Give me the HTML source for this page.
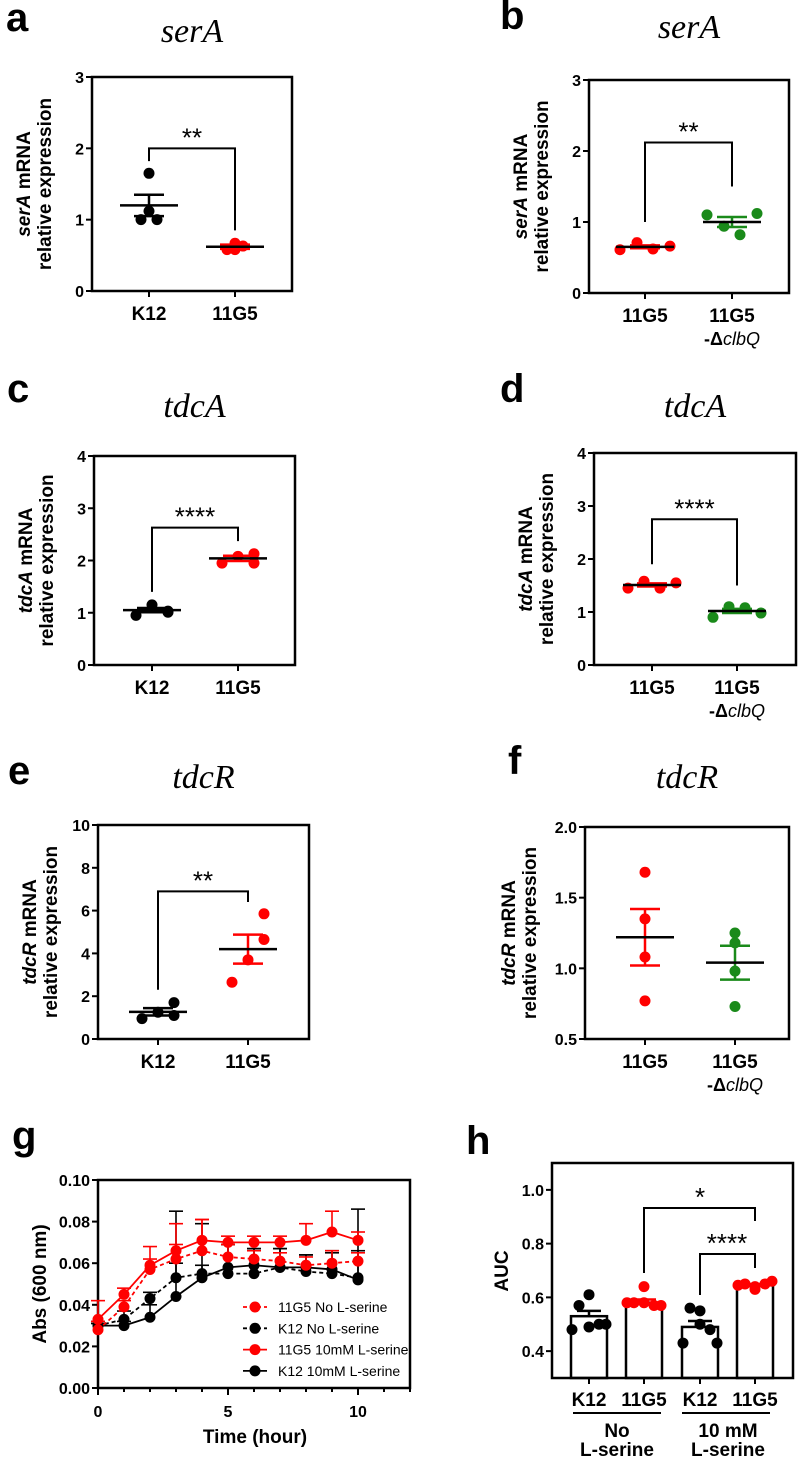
<!DOCTYPE html>
<html><head><meta charset="utf-8">
<style>
html,body{margin:0;padding:0;background:#fff;}
svg{display:block;font-family:"Liberation Sans",sans-serif;}
.tk{font-size:16px;font-weight:bold;}
.cat{font-size:19px;font-weight:bold;}
.yt{font-size:19px;font-weight:bold;}
.pl{font-size:40px;font-weight:bold;}
.ti{font-family:"Liberation Serif",serif;font-style:italic;font-size:34px;}
</style></head>
<body>
<svg id="fig" width="800" height="1459" viewBox="0 0 800 1459" xmlns="http://www.w3.org/2000/svg"></svg>
<script>
// ---- data ----
const aCategories = ["K12","11G5"];
const aK12 = [1.65,1.12,1.0,1.0];
const a11G5 = [0.58,0.67,0.58,0.63];
const aMeans = [1.2,0.62];
const aSem = [0.15,0.03];
const aTicks = [0,1,2,3];

const bCategories = ["11G5","11G5 -ΔclbQ"];
const b11G5 = [0.61,0.71,0.62,0.66];
const bClbQ = [1.1,0.94,0.82,1.12];
const bMeans = [0.65,1.0];
const bSem = [0.02,0.07];
const bTicks = [0,1,2,3];

const cK12 = [0.95,1.15,1.03,1.01];
const c11G5 = [1.95,2.08,1.95,2.13];
const cMeans = [1.05,2.04];
const cSem = [0.04,0.05];
const cTicks = [0,1,2,3,4];

const d11G5 = [1.45,1.58,1.45,1.55];
const dClbQ = [0.9,1.1,1.08,0.98];
const dMeans = [1.51,1.02];
const dSem = [0.03,0.04];
const dTicks = [0,1,2,3,4];

const eK12 = [0.95,1.25,1.1,1.7];
const e11G5 = [2.65,3.7,4.65,5.85];
const eMeans = [1.27,4.2];
const eSem = [0.17,0.68];
const eTicks = [0,2,4,6,8,10];

const f11G5 = [1.68,1.35,1.08,0.77];
const fClbQ = [1.25,1.18,0.98,0.73];
const fMeans = [1.22,1.04];
const fSem = [0.2,0.12];
const fTicks = [0.5,1.0,1.5,2.0];

const gHours = [0,1,2,3,4,5,6,7,8,9,10];
const g11G5No = [0.028,0.039,0.057,0.062,0.066,0.063,0.062,0.061,0.059,0.060,0.061];
const g11G5NoErr = [0.004,0.003,0.005,0.007,0.015,0.006,0.004,0.004,0.004,0.006,0.004];
const gK12No = [0.030,0.033,0.043,0.053,0.055,0.055,0.055,0.058,0.056,0.055,0.053];
const gK12NoErr = [0.002,0.004,0.003,0.007,0.004,0.014,0.012,0.009,0.008,0.011,0.013];
const g11G5Ser = [0.033,0.045,0.059,0.066,0.071,0.070,0.070,0.070,0.071,0.075,0.071];
const g11G5SerErr = [0.009,0.003,0.009,0.013,0.010,0.003,0.003,0.003,0.008,0.010,0.004];
const gK12Ser = [0.030,0.030,0.034,0.044,0.053,0.058,0.059,0.058,0.058,0.057,0.052];
const gK12SerErr = [0.001,0.002,0.006,0.041,0.026,0.011,0.008,0.009,0.006,0.008,0.034];
const gYTicks = [0,0.02,0.04,0.06,0.08,0.10];
const gXTicks = [0,5,10];
const gLegend = ["11G5 No L-serine","K12 No L-serine","11G5 10mM L-serine","K12 10mM L-serine"];

const hCategories = ["K12","11G5","K12","11G5"];
const hMeans = [0.53,0.58,0.49,0.645];
const hSem = [0.02,0.012,0.022,0.005];
const hPts0 = [0.61,0.57,0.50,0.48,0.50,0.49];
const hPts1 = [0.64,0.58,0.57,0.58,0.57,0.58];
const hPts2 = [0.55,0.56,0.48,0.43,0.43,0.50];
const hPts3 = [0.64,0.65,0.65,0.645,0.66,0.63];
const hTicks = [0.4,0.6,0.8,1.0];

// ---- helpers ----
const svg = document.getElementById('fig');
const NS = "http://www.w3.org/2000/svg";
function mk(tag, attrs, parent){
  const e = document.createElementNS(NS, tag);
  for (const k in attrs) e.setAttribute(k, attrs[k]);
  (parent||svg).appendChild(e);
  return e;
}
function line(x1,y1,x2,y2,col,w,p,dash){
  const l = mk('line',{x1:x1,y1:y1,x2:x2,y2:y2,stroke:col,'stroke-width':w},p);
  if (dash) l.setAttribute('stroke-dasharray',dash);
  return l;
}
function txt(x,y,s,cls,anchor,p){
  const t = mk('text',{x:x,y:y,'text-anchor':anchor||'middle'},p);
  if (cls) t.setAttribute('class',cls);
  t.textContent = s;
  return t;
}
function fmt(v,d){return d?v.toFixed(d):String(v);}

const RED="#ff0000", GRN="#1a8a1a", BLK="#000";
const jit = [0,0,-12,12];

function dotPanel(o){
  const g = mk('g',{});
  
  
  const ys = v => o.y0 - (v - o.min)/(o.max - o.min)*(o.y0 - o.y1);
  const pl = txt(o.lx, o.ly, o.letter, 'pl', 'start', g);
   
  const ti = txt((o.x0+o.x1)/2, o.ty, o.title, 'ti', 'middle', g);
   
  const fr = mk('rect',{x:o.x0,y:o.y1,width:o.x1-o.x0,height:o.y0-o.y1,fill:'none',stroke:BLK,'stroke-width':2.5},g);
   
  o.ticks.forEach(t=>{
    const y = ys(t);
    line(o.x0-6,y,o.x0,y,BLK,2,g);
    const tl = txt(o.x0-8,y+6,fmt(t,o.dec),'tk','end',g);
     
  });
  const yt = mk('text',{transform:`translate(${o.x0-(o.dec?68:60)},${(o.y0+o.y1)/2}) rotate(-90)`,'text-anchor':'middle',class:'yt'},g);
   
  const t1 = mk('tspan',{x:0,dy:-2},yt);
  const it = mk('tspan',{'font-style':'italic'},t1); it.textContent = o.gene;
  const rest = mk('tspan',{},t1); rest.textContent = ' mRNA';
  const t2 = mk('tspan',{x:0,dy:21},yt); t2.textContent='relative expression';
  o.groups.forEach((gr,i)=>{
    const cx = o.cats[i];
    line(cx,o.y0,cx,o.y0+6,BLK,2,g);
    const cl = txt(cx,o.y0+29,gr.label,'cat','middle',g);
     
    if (gr.sub){
      const s = mk('text',{x:cx,y:o.y0+52,'text-anchor':'middle','font-size':'18'},g);
       
      const a = mk('tspan',{'font-weight':'bold'},s); a.textContent='-Δ';
      const b = mk('tspan',{'font-style':'italic'},s); b.textContent='clbQ';
    }
    gr.pts.forEach((v,j)=>{
      const c = mk('circle',{cx:cx+(o.jit||jit)[j],cy:ys(v),r:5.5,fill:gr.col},g);
       
    });
    const m = gr.mean, s = gr.sem;
    const eb = mk('g',{},g);
     
    line(cx,ys(m-s),cx,ys(m+s),gr.col,2.5,eb);
    line(cx-15,ys(m-s),cx+15,ys(m-s),gr.col,2.5,eb);
    line(cx-15,ys(m+s),cx+15,ys(m+s),gr.col,2.5,eb);
    const ml = line(cx-29,ys(m),cx+29,ys(m),BLK,2.5,g);
     
  });
  if (o.sig){
    const sb = mk('g',{},g);
     
    const [l,top,r,st] = o.sig;
    mk('polyline',{points:`${o.cats[0]},${ys(l)} ${o.cats[0]},${ys(top)} ${o.cats[1]},${ys(top)} ${o.cats[1]},${ys(r)}`,fill:'none',stroke:BLK,'stroke-width':2},sb);
    txt((o.cats[0]+o.cats[1])/2,ys(top)-2,st,null,'middle',sb).setAttribute('font-size','26');
  }
}

const jitA=[0,0,-8,8], jitB=[-25,-8,8,25];
dotPanel({name:'panel-a',letter:'a',lx:6,ly:31,title:'serA',ty:42,gene:'serA',x0:92,x1:292,y1:77,y0:291,min:0,max:3,ticks:aTicks,cats:[149,235],jit:[0,0,-8,8],
  groups:[{label:aCategories[0],pts:aK12,mean:aMeans[0],sem:aSem[0],col:BLK},{label:aCategories[1],pts:a11G5,mean:aMeans[1],sem:aSem[1],col:RED}],
  sig:[1.82,2.0,0.85,'**']});
dotPanel({name:'panel-b',letter:'b',lx:500,ly:29,title:'serA',ty:38,gene:'serA',x0:589,x1:789,y1:80,y0:293,min:0,max:3,ticks:bTicks,cats:[645,732],jit:[-25,-8,8,25],
  groups:[{label:'11G5',pts:b11G5,mean:bMeans[0],sem:bSem[0],col:RED},{label:'11G5',sub:true,pts:bClbQ,mean:bMeans[1],sem:bSem[1],col:GRN}],
  sig:[1.0,2.12,1.5,'**']});
dotPanel({name:'panel-c',letter:'c',lx:7,ly:402,title:'tdcA',ty:417,gene:'tdcA',x0:94,x1:295,y1:456,y0:665,min:0,max:4,ticks:cTicks,cats:[152,238],jit:[-16,0,16,16],
  groups:[{label:'K12',pts:cK12,mean:cMeans[0],sem:cSem[0],col:BLK},{label:'11G5',pts:c11G5,mean:cMeans[1],sem:cSem[1],col:RED}],
  sig:[1.4,2.63,2.37,'****']});
dotPanel({name:'panel-d',letter:'d',lx:500,ly:402,title:'tdcA',ty:417,gene:'tdcA',x0:594,x1:796,y1:453,y0:665,min:0,max:4,ticks:dTicks,cats:[652,737],jit:[-24,-8,8,24],
  groups:[{label:'11G5',pts:d11G5,mean:dMeans[0],sem:dSem[0],col:RED},{label:'11G5',sub:true,pts:dClbQ,mean:dMeans[1],sem:dSem[1],col:GRN}],
  sig:[1.9,2.75,1.5,'****']});
dotPanel({name:'panel-e',letter:'e',lx:8,ly:784,title:'tdcR',ty:788,gene:'tdcR',x0:98,x1:309,y1:825,y0:1039,min:0,max:10,ticks:eTicks,cats:[158,248],jit:[-16,0,16,16],
  groups:[{label:'K12',pts:eK12,mean:eMeans[0],sem:eSem[0],col:BLK},{label:'11G5',pts:e11G5,mean:eMeans[1],sem:eSem[1],col:RED}],
  sig:[2.3,6.9,6.4,'**']});
dotPanel({name:'panel-f',letter:'f',lx:508,ly:774,title:'tdcR',ty:788,gene:'tdcR',dec:1,x0:585,x1:789,y1:827,y0:1039,min:0.5,max:2.0,ticks:fTicks,cats:[645,735],jit:[0,0,0,0],
  groups:[{label:'11G5',pts:f11G5,mean:fMeans[0],sem:fSem[0],col:RED},{label:'11G5',sub:true,pts:fClbQ,mean:fMeans[1],sem:fSem[1],col:GRN}],
  sig:null});

// ---- panel g ----
(function(){
  const g = mk('g',{});
  
  
  const X0=98, X1=410, Y0=1388, Y1=1180;
  const xs = h => X0 + h*26;
  const ys = v => Y0 - v/0.10*(Y0-Y1);
  const pl = txt(12,1149,'g','pl','start',g);
   
  const fr = mk('rect',{x:X0,y:Y1,width:X1-X0,height:Y0-Y1,fill:'none',stroke:BLK,'stroke-width':2.5},g);
   
  gYTicks.forEach(t=>{
    line(X0-6,ys(t),X0,ys(t),BLK,2,g);
    const tl = txt(X0-8,ys(t)+6,t.toFixed(2),'tk','end',g);
     
  });
  for (let h=0; h<=12; h++) line(xs(h),Y0,xs(h),Y0+(h%5==0?7:4),BLK,2,g);
  gXTicks.forEach(t=>{
    const tl = txt(xs(t),Y0+29,String(t),'tk','middle',g);
     
  });
  const xt = txt(255,1443,'Time (hour)','yt','middle',g);
   
  const yt = mk('text',{transform:`translate(46,${(Y0+Y1)/2}) rotate(-90)`,'text-anchor':'middle',class:'yt'},g);
   
  yt.textContent='Abs (600 nm)';
  const series = [
    {v:gK12No,e:gK12NoErr,col:BLK,dash:'4,3'},
    {v:gK12Ser,e:gK12SerErr,col:BLK,dash:null},
    {v:g11G5No,e:g11G5NoErr,col:RED,dash:'4,3'},
    {v:g11G5Ser,e:g11G5SerErr,col:RED,dash:null}
  ];
  series.forEach((s,si)=>{
    const sg = mk('g',{},g);
    
    
    s.v.forEach((v,i)=>{
      const x = xs(gHours[i]);
      line(x,ys(v),x,ys(v+s.e[i]),s.col,1.6,sg);
      line(x-7,ys(v+s.e[i]),x+7,ys(v+s.e[i]),s.col,1.6,sg);
    });
    const pts = s.v.map((v,i)=>xs(gHours[i])+','+ys(v)).join(' ');
    const pl = mk('polyline',{points:pts,fill:'none',stroke:s.col,'stroke-width':1.8},sg);
    if (s.dash) pl.setAttribute('stroke-dasharray',s.dash);
    s.v.forEach((v,i)=>{
      const c = mk('circle',{cx:xs(gHours[i]),cy:ys(v),r:5.5,fill:s.col},sg);
       
    });
  });
  const lg = [{col:RED,dash:'4,3'},{col:BLK,dash:'4,3'},{col:RED,dash:null},{col:BLK,dash:null}];
  gLegend.forEach((lab,i)=>{
    const y = 1307 + i*21.3;
    const eg = mk('g',{},g);
    
    
    line(243,y,267,y,lg[i].col,1.8,eg,lg[i].dash);
    mk('circle',{cx:255,cy:y,r:5.5,fill:lg[i].col},eg);
    txt(278,y+5,lab,null,'start',eg).setAttribute('font-size','14');
  });
})();

// ---- panel h ----
(function(){
  const g = mk('g',{});
  
  
  const X0=552, X1=793, Y0=1378, Y1=1163;
  const ys = v => Y0 - (v-0.3)/0.8*(Y0-Y1);
  const cats = [589,644,700,755];
  const pl = txt(466,1154,'h','pl','start',g);
   
  const pts = [hPts0,hPts1,hPts2,hPts3];
  const cols = [BLK,RED,BLK,RED];
  const hj = [0,-10,10,-17,17,0];
  hMeans.forEach((m,i)=>{
    const b = mk('rect',{x:cats[i]-18,y:ys(m),width:36,height:Y0-ys(m),fill:'#fff',stroke:BLK,'stroke-width':2.5},g);
     
  });
  const fr = mk('rect',{x:X0,y:Y1,width:X1-X0,height:Y0-Y1,fill:'none',stroke:BLK,'stroke-width':2.5},g);
   
  hMeans.forEach((m,i)=>{
    const cx = cats[i];
    pts[i].forEach((v,j)=>{
      const c = mk('circle',{cx:cx+hj[j],cy:ys(v),r:5.5,fill:cols[i]},g);
       
    });
    const col = cols[i];
    line(cx,ys(m),cx,ys(m+hSem[i]),col,2.5,g);
    line(cx-12,ys(m+hSem[i]),cx+12,ys(m+hSem[i]),col,2.5,g);
    line(cx,Y0,cx,Y0+6,BLK,2,g);
    const cl = txt(cx,1406,hCategories[i],'cat','middle',g);
     
  });
  hTicks.forEach(t=>{
    line(X0-6,ys(t),X0,ys(t),BLK,2,g);
    const tl = txt(X0-8,ys(t)+6,t.toFixed(1),'tk','end',g);
     
  });
  const yt = mk('text',{transform:`translate(508,1271) rotate(-90)`,'text-anchor':'middle',class:'yt'},g);
   
  yt.textContent='AUC';
  line(573,1413,661,1413,BLK,2,g);
  line(682,1413,770,1413,BLK,2,g);
  const g1 = mk('text',{x:617,'text-anchor':'middle',class:'cat'},g);
   
  mk('tspan',{x:617,y:1437},g1).textContent='No';
  mk('tspan',{x:617,y:1456},g1).textContent='L-serine';
  const g2 = mk('text',{x:728,'text-anchor':'middle',class:'cat'},g);
   
  mk('tspan',{x:728,y:1437},g2).textContent='10 mM';
  mk('tspan',{x:728,y:1456},g2).textContent='L-serine';
  const b1 = mk('g',{},g);
   
  mk('polyline',{points:`${cats[1]},1273 ${cats[1]},1208 ${cats[3]},1208 ${cats[3]},1221`,fill:'none',stroke:BLK,'stroke-width':2},b1);
  txt(700,1206,'*',null,'middle',b1).setAttribute('font-size','26');
  const b2 = mk('g',{},g);
   
  mk('polyline',{points:`${cats[2]},1295 ${cats[2]},1254 ${cats[3]},1254 ${cats[3]},1268`,fill:'none',stroke:BLK,'stroke-width':2},b2);
  txt(727,1252,'****',null,'middle',b2).setAttribute('font-size','26');
})();
</script>
</body></html>
